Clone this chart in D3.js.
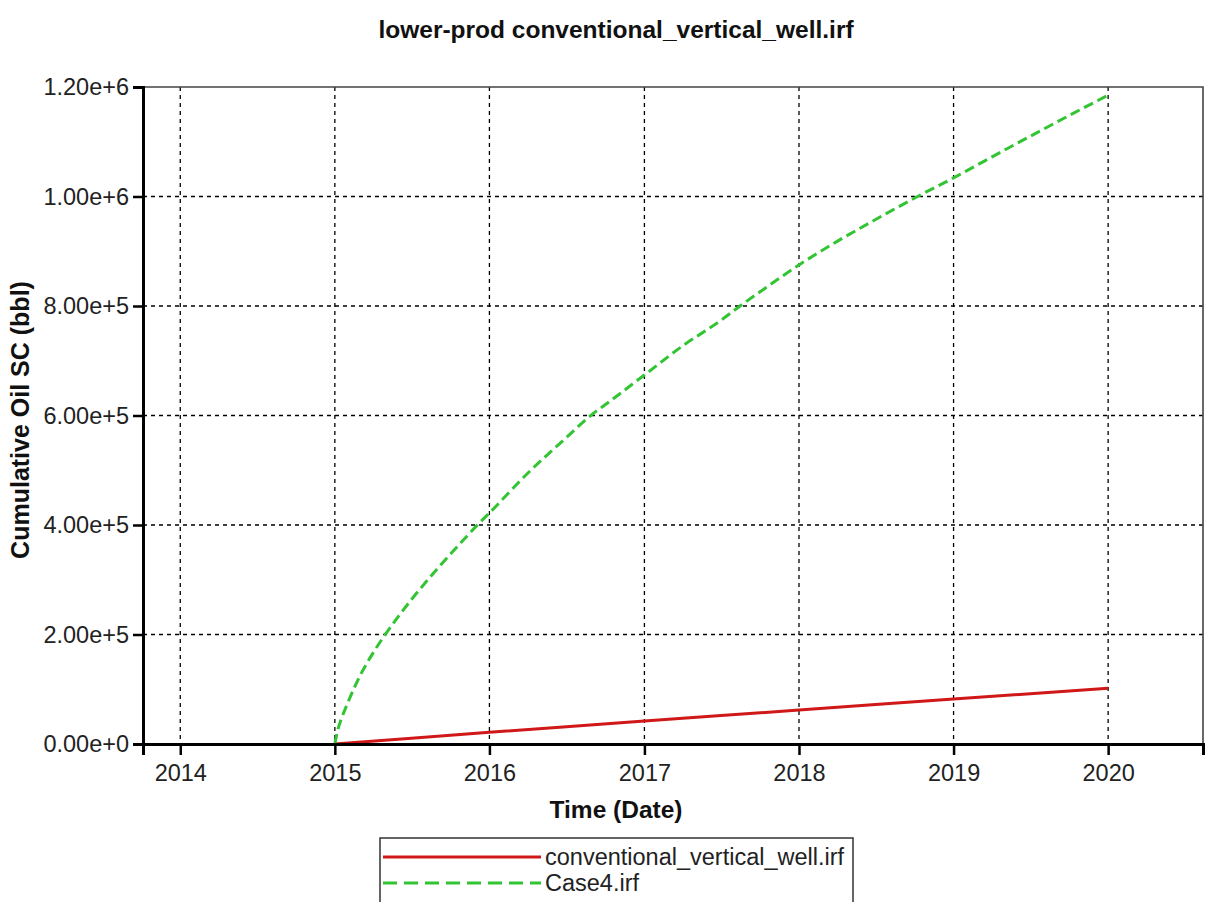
<!DOCTYPE html>
<html>
<head>
<meta charset="utf-8">
<script src="https://cdn.jsdelivr.net/npm/d3@7"></script>
<style>
  html, body { margin: 0; padding: 0; background: #fff; }
  svg { display: block; font-family: "Liberation Sans", Arial, sans-serif; }
</style>
</head>
<body>
<svg id="chart" width="1207" height="902"></svg>
<script>
const chartTitle = "lower-prod conventional_vertical_well.irf";
const xAxisTitle = "Time (Date)";
const yAxisTitle = "Cumulative Oil SC (bbl)";
const seriesNames = ["conventional_vertical_well.irf", "Case4.irf"];
const xDomain = ["2013-10-05", "2020-08-12"];
const yDomain = [0, 1200000];
const xTickYears = ["2014", "2015", "2016", "2017", "2018", "2019", "2020"];
const yTickValues = [0, 200000, 400000, 600000, 800000, 1000000, 1200000];

const redDates = ["2015-01-01", "2015-07-01", "2016-01-01", "2016-07-01", "2017-01-01", "2017-07-01",
  "2018-01-01", "2018-07-01", "2019-01-01", "2019-07-01", "2020-01-01"];
const redValues = [0, 10500, 21500, 31500, 42000, 52000, 62000, 72000, 82000, 92000, 102000];

const greenDates = ["2015-01-01", "2015-01-08", "2015-01-16", "2015-02-01", "2015-03-01", "2015-04-01",
  "2015-05-01", "2015-06-01", "2015-07-01", "2015-08-01", "2015-09-01", "2015-10-01", "2015-11-01",
  "2015-12-01", "2016-01-01", "2016-04-01", "2016-07-01", "2016-09-01", "2016-10-01", "2017-01-01",
  "2017-04-01", "2017-07-01", "2017-08-15", "2017-10-01", "2018-01-01", "2018-04-01", "2018-07-01",
  "2018-10-08", "2019-01-01", "2019-04-01", "2019-07-01", "2019-10-01", "2020-01-01"];
const greenValues = [0, 26000, 45000, 76000, 124000, 166000, 201000, 234000, 264000, 293000, 321000,
  347000, 373000, 398000, 422000, 495000, 560000, 603000, 620000, 674000, 727000, 774000, 800000,
  826000, 875000, 918000, 958000, 1000000, 1034000, 1072000, 1110000, 1148000, 1185000];

const parse = d3.utcParse("%Y-%m-%d");
const svg = d3.select("#chart");
const L = 143, R = 1203, T = 87, B = 744;
const FONT = "Liberation Sans, Arial, sans-serif";

const x = d3.scaleUtc().domain(xDomain.map(parse)).range([L, R]);
const y = d3.scaleLinear().domain(yDomain).range([B, T]);
const xTicks = xTickYears.map(s => parse(s + "-01-01"));

// grid
const grid = svg.append("g");
grid.selectAll("line.vg").data(xTicks).join("line")
  .attr("x1", d => x(d)).attr("x2", d => x(d)).attr("y1", T).attr("y2", B)
  .attr("stroke", "#000").attr("stroke-width", 1.3).attr("stroke-dasharray", "4,4");
grid.selectAll("line.hg").data(yTickValues.slice(1, -1)).join("line")
  .attr("x1", L).attr("x2", R).attr("y1", d => y(d)).attr("y2", d => y(d))
  .attr("stroke", "#000").attr("stroke-width", 1.3).attr("stroke-dasharray", "4,4");

// frame top/right
svg.append("path").attr("d", `M${L},${T}H${R}V${B}`).attr("fill", "none")
  .attr("stroke", "#444").attr("stroke-width", 1.6);

// series
const line = d3.line().x(d => x(d[0])).y(d => y(d[1]));
const redData = redDates.map((d, i) => [parse(d), redValues[i]]);
const greenData = greenDates.map((d, i) => [parse(d), greenValues[i]]);
svg.append("path").datum(redData).attr("d", line).attr("fill", "none")
  .attr("stroke", "#d01818").attr("stroke-width", 3);
svg.append("path").datum(greenData).attr("d", line.curve(d3.curveMonotoneX)).attr("fill", "none")
  .attr("stroke", "#33c433").attr("stroke-width", 3).attr("stroke-dasharray", "10,5");

// axes
const xAxis = d3.axisBottom(x).tickValues(xTicks).tickFormat(d3.utcFormat("%Y")).tickSizeOuter(0).tickSize(11).tickPadding(9);
const gx = svg.append("g").attr("transform", `translate(0,${B})`).call(xAxis);
gx.select(".domain").attr("stroke", "#000").attr("stroke-width", 3);
gx.selectAll(".tick line").attr("stroke", "#000").attr("stroke-width", 2.5);
gx.selectAll(".tick text").attr("fill", "#222").style("font-size", "23.5px").style("font-family", FONT);

const yAxis = d3.axisLeft(y).tickValues(yTickValues).tickFormat(d3.format(".2e")).tickSizeOuter(0).tickSize(10).tickPadding(4);
const gy = svg.append("g").attr("transform", `translate(${L},0)`).call(yAxis);
gy.select(".domain").attr("stroke", "#000").attr("stroke-width", 3);
gy.selectAll(".tick line").attr("stroke", "#000").attr("stroke-width", 2.5);
gy.selectAll(".tick text").attr("fill", "#222").style("font-size", "23.5px").style("font-family", FONT);

// titles
svg.append("text").attr("x", 616).attr("y", 38).attr("text-anchor", "middle")
  .style("font-size", "24.5px").style("font-weight", "bold").attr("fill", "#111").text(chartTitle);
svg.append("text").attr("x", 616).attr("y", 818).attr("text-anchor", "middle")
  .style("font-size", "24.5px").style("font-weight", "bold").attr("fill", "#111").text(xAxisTitle);
svg.append("text").attr("transform", "translate(29,420) rotate(-90)").attr("text-anchor", "middle")
  .style("font-size", "25px").style("font-weight", "bold").attr("fill", "#111").text(yAxisTitle);

// legend
const lg = svg.append("g");
lg.append("rect").attr("x", 380).attr("y", 838).attr("width", 473).attr("height", 80)
  .attr("fill", "#fff").attr("stroke", "#333").attr("stroke-width", 1.5);
const rows = [
  { name: seriesNames[0], color: "#d01818", dash: null, y: 857 },
  { name: seriesNames[1], color: "#33c433", dash: "14,7", y: 883 }
];
rows.forEach(r => {
  lg.append("line").attr("x1", 383).attr("x2", 541).attr("y1", r.y).attr("y2", r.y)
    .attr("stroke", r.color).attr("stroke-width", 3).attr("stroke-dasharray", r.dash);
  lg.append("text").attr("x", 545).attr("y", r.y + 8).style("font-size", "23.5px")
    .attr("fill", "#222").text(r.name);
});
</script>
</body>
</html>
